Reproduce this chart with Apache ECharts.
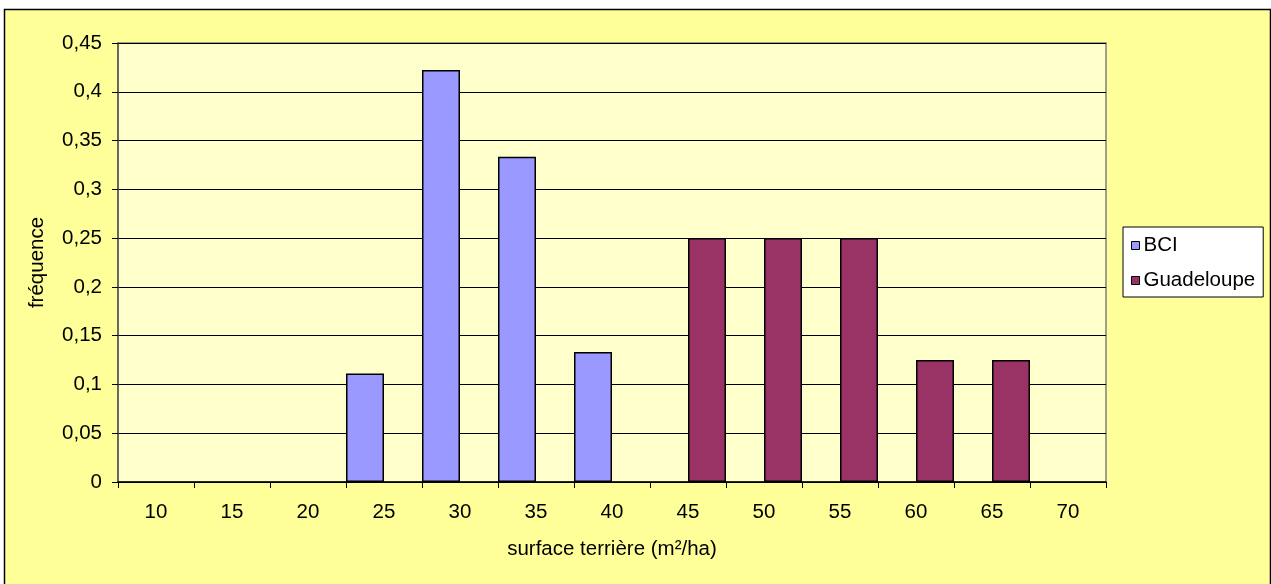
<!DOCTYPE html>
<html>
<head>
<meta charset="utf-8">
<script src="https://cdn.jsdelivr.net/npm/echarts@6/dist/echarts.min.js"></script>
<style>
html,body{margin:0;padding:0;background:#ffffff;}
#chart{width:1271px;height:584px;}
</style>
</head>
<body>
<div id="chart"></div>
<script>
const categories = ['10','15','20','25','30','35','40','45','50','55','60','65','70'];
const bciValues = [null, null, null, 0.1111, 0.4222, 0.3333, 0.1333, null, null, null, null, null, null];
const guadeloupeValues = [null, null, null, null, null, null, null, 0.25, 0.25, 0.25, 0.125, 0.125, null];
const yTickLabels = ['0','0,05','0,1','0,15','0,2','0,25','0,3','0,35','0,4','0,45'];

const FONT = 'Liberation Sans, Arial, sans-serif';
const FS = 20.5;
const chart = echarts.init(document.getElementById('chart'), null, {renderer: 'canvas'});
chart.setOption({
  animation: false,
  backgroundColor: '#ffffff',
  graphic: [{
    type: 'rect', z: -10, silent: true,
    shape: {x: 4.5, y: 9.5, width: 1266, height: 620},
    style: {fill: '#FFFF99', stroke: '#000000', lineWidth: 1.5}
  }],
  grid: {
    left: 118, top: 43, width: 988, height: 439,
    show: true, backgroundColor: '#FFFFCC', borderColor: '#808080', borderWidth: 1.5
  },
  legend: {
    orient: 'vertical',
    left: 1123, top: 227,
    padding: [8, 8, 6, 8],
    itemGap: 14,
    itemWidth: 8, itemHeight: 8,
    backgroundColor: '#ffffff',
    borderColor: '#000000', borderWidth: 1,
    textStyle: {fontFamily: FONT, fontSize: FS, color: '#000000', padding: [0,0,0,-1]},
    data: [
      {name: 'BCI', icon: 'rect', itemStyle: {borderColor: '#000', borderWidth: 1}},
      {name: 'Guadeloupe', icon: 'rect', itemStyle: {borderColor: '#000', borderWidth: 1}}
    ]
  },
  xAxis: {
    type: 'category',
    data: categories,
    boundaryGap: true,
    name: 'surface terrière (m²/ha)',
    nameLocation: 'middle',
    nameGap: 57,
    nameTextStyle: {fontFamily: FONT, fontSize: FS, color: '#000000'},
    axisLine: {show: true, lineStyle: {color: '#000000', width: 1.5}},
    axisTick: {show: true, alignWithLabel: false, length: 6, lineStyle: {color: '#000000'}},
    axisLabel: {fontFamily: FONT, fontSize: FS, color: '#000000', margin: 20, interval: 0},
    splitLine: {show: false}
  },
  yAxis: {
    type: 'value',
    min: 0, max: 0.45, interval: 0.05,
    name: 'fréquence',
    nameLocation: 'middle',
    nameGap: 70,
    nameRotate: 90,
    nameTextStyle: {fontFamily: FONT, fontSize: FS, color: '#000000'},
    axisLine: {show: true, lineStyle: {color: '#555555', width: 1.5}},
    axisTick: {show: true, length: 6, lineStyle: {color: '#000000'}},
    axisLabel: {
      fontFamily: FONT, fontSize: FS, color: '#000000', margin: 16,
      formatter: function (v) { return yTickLabels[Math.round(v / 0.05)]; }
    },
    splitLine: {show: true, lineStyle: {color: '#000000', width: 1}}
  },
  series: [
    {
      name: 'BCI', type: 'bar', data: bciValues,
      barGap: '0%', barCategoryGap: '0%',
      itemStyle: {color: '#9999FF', borderColor: '#000000', borderWidth: 1.5}
    },
    {
      name: 'Guadeloupe', type: 'bar', data: guadeloupeValues,
      barGap: '0%', barCategoryGap: '0%',
      itemStyle: {color: '#993366', borderColor: '#000000', borderWidth: 1.5}
    }
  ]
});
</script>
</body>
</html>
